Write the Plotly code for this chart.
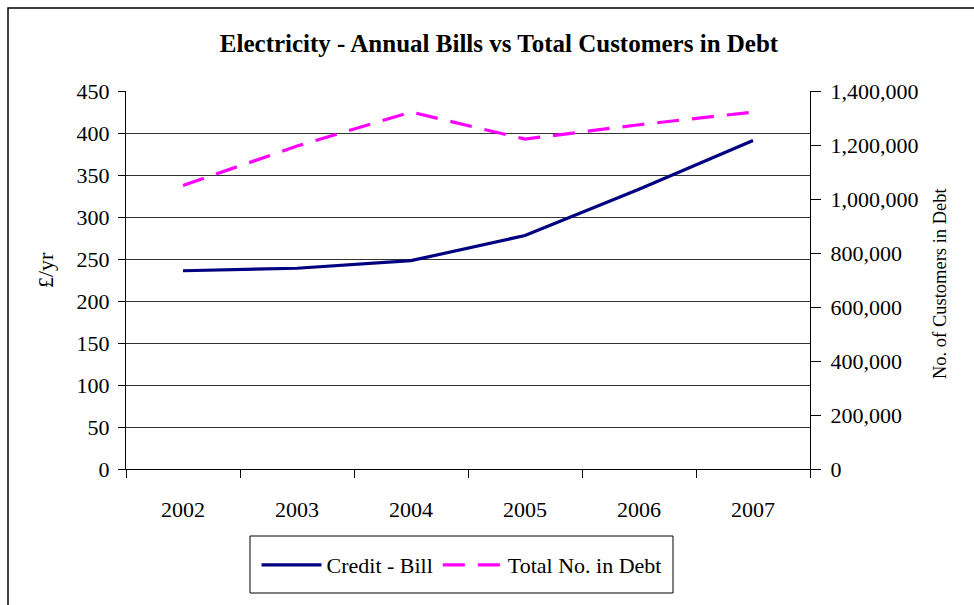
import plotly.graph_objects as go

years = ["2002", "2003", "2004", "2005", "2006", "2007"]
credit_bill = [236, 239, 248, 278, 333, 391]
total_in_debt = [1050000, 1196000, 1322000, 1222000, 1275000, 1322000]

left_ticks = [0, 50, 100, 150, 200, 250, 300, 350, 400, 450]
right_ticks = [0, 200000, 400000, 600000, 800000, 1000000, 1200000, 1400000]

FONT = "Liberation Serif, Times New Roman, serif"

fig = go.Figure()
fig.add_trace(go.Scatter(
    x=years, y=credit_bill, name="Credit - Bill", mode="lines",
    line=dict(color="#000080", width=3.2), yaxis="y"))
fig.add_trace(go.Scatter(
    x=years, y=total_in_debt, name="Total No. in Debt", mode="lines",
    line=dict(color="#FF00FF", width=3.2, dash="22px,13px"), yaxis="y2"))

W, H = 974, 605
L, R, T, B = 126, 810, 91, 469
pw, ph = R - L, B - T

def px(x):
    return (x - L) / pw

def py(y):
    return (B - y) / ph

fig.update_layout(
    width=W, height=H,
    margin=dict(l=L, r=W - R, t=T, b=H - B, pad=0),
    paper_bgcolor="white", plot_bgcolor="white",
    font=dict(family=FONT, size=22, color="black"),
    title=dict(text="<b>Electricity - Annual Bills vs Total Customers in Debt</b>",
               font=dict(family=FONT, size=25, color="black"),
               x=px(499), xref="paper", xanchor="center",
               y=1 - 43 / H, yref="container", yanchor="middle"),
    xaxis=dict(type="category", categoryorder="array", categoryarray=years,
               range=[-0.5, 5.5], tickson="boundaries", ticks="outside",
               ticklen=8, tickcolor="black", showline=True, linecolor="black",
               linewidth=1, showgrid=False, zeroline=False,
               ticklabelstandoff=21, tickfont=dict(size=22)),
    yaxis=dict(range=[0, 450], tickvals=left_ticks, ticks="outside", ticklen=7,
               tickcolor="black", showline=True, linecolor="black", linewidth=1,
               showgrid=True, gridcolor="#333333", gridwidth=1, zeroline=False,
               tickfont=dict(size=22), ticklabelstandoff=4),
    yaxis2=dict(range=[0, 1400000], tickvals=right_ticks, tickformat=",d",
                overlaying="y", side="right", ticks="outside", ticklen=10,
                tickcolor="black", showline=True, linecolor="black", linewidth=1,
                showgrid=False, zeroline=False, tickfont=dict(size=22),
                ticklabelstandoff=5),
    yaxis3=dict(range=[0, 1400000], tickvals=right_ticks, overlaying="y",
                side="right", ticks="inside", ticklen=6, tickcolor="black",
                showticklabels=False, showline=False, showgrid=False,
                zeroline=False),
    legend=dict(orientation="h", x=px(461.5), xanchor="center",
                y=py(565), yanchor="middle", borderwidth=0,
                bgcolor="rgba(0,0,0,0)", font=dict(size=22), itemwidth=60,
                tracegroupgap=0),
    showlegend=True,
)

fig.add_annotation(text="£/yr", textangle=-90, x=px(45), y=py(270),
                   xref="paper", yref="paper", showarrow=False,
                   font=dict(size=22, family=FONT), xanchor="center", yanchor="middle")
fig.add_annotation(text="No. of Customers in Debt", textangle=-90, x=px(940), y=py(284),
                   xref="paper", yref="paper", showarrow=False,
                   font=dict(size=18.5, family=FONT), xanchor="center", yanchor="middle")

# legend frame
fig.add_shape(type="rect", xref="paper", yref="paper",
              x0=px(250), x1=px(673), y0=py(593), y1=py(536),
              line=dict(color="black", width=1), fillcolor="rgba(0,0,0,0)",
              layer="above")

# outer chart frame
fig.add_shape(type="rect", xref="paper", yref="paper",
              x0=px(8), x1=px(990), y0=py(620), y1=py(8),
              line=dict(color="black", width=1.5), fillcolor="rgba(0,0,0,0)",
              layer="above")

fig.write_html("out.html")
